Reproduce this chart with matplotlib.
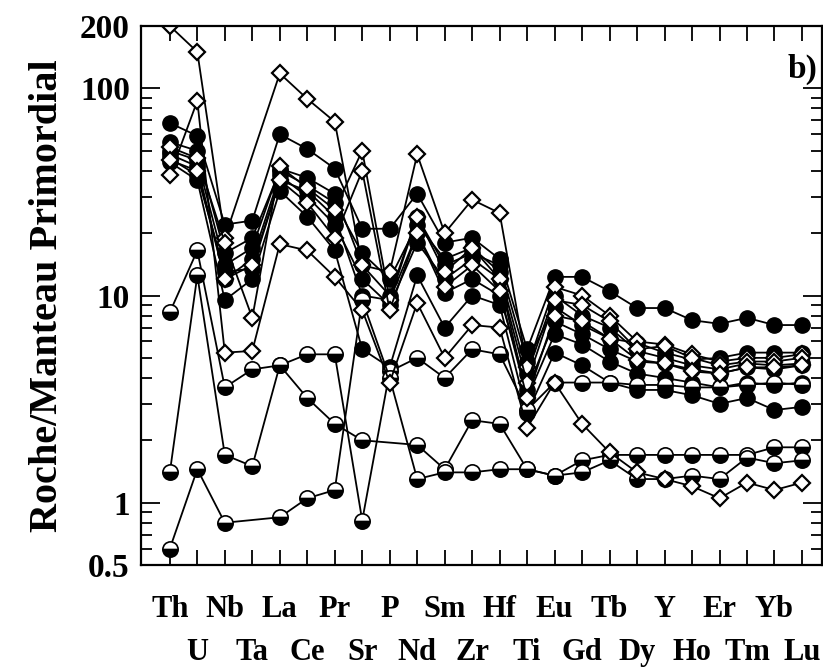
import numpy as np
import matplotlib.pyplot as plt
from matplotlib.ticker import LogLocator, NullFormatter, FixedLocator

plt.rcParams['font.family'] = ['Liberation Serif', 'DejaVu Serif']
plt.rcParams['font.weight'] = 'bold'

nan = np.nan
elements = ["Th", "U", "Nb", "Ta", "La", "Ce", "Pr", "Sr", "P", "Nd", "Sm", "Zr",
            "Hf", "Ti", "Eu", "Gd", "Tb", "Dy", "Y", "Ho", "Er", "Tm", "Yb", "Lu"]

# open diamonds
d1 = [200, 150, 19, nan, 118, 89, 69, 14, 13, 48, 20, 29, 25, 4.5, 11, 10, 8, 6, 5.8, 5.2, 4.8, 5.0, 5.0, 5.2]
d2 = [38, 87, 5.3, 5.4, 17.7, 16.5, 12.3, 8.5, 3.8, 9.2, 5.0, 7.2, 7.0, 2.3, 3.8, 2.4, 1.75, 1.4, 1.3, 1.2, 1.05, 1.25, 1.15, 1.25]
d3 = [52, 46, 18, 7.8, 42, 33, 26, 50, 9.5, 24, 13, 17, 12, 3.8, 9.5, 9, 7.5, 5.5, 5.7, 5.0, 4.6, 4.8, 4.8, 5.0]
d4 = [45, 40, 12, 14, 36, 28, 19, 40, 8.5, 20, 11, 14, 10.5, 3.2, 8, 7.5, 6.2, 4.9, 4.7, 4.3, 4.2, 4.5, 4.5, 4.6]

# filled circles
f1 = [68, 59, 22, 23, 60, 51, 41, 21, 21, 31, 18, 19, 15, 5.5, 12.3, 12.3, 10.5, 8.7, 8.7, 7.6, 7.3, 7.8, 7.2, 7.2]
f2 = [50, 45, 14, 17, 41, 37, 31, 14, 10, 24, 14, 16, 14, 4.8, 8.8, 7.2, 6.2, 5.9, 5.3, 4.9, 5.0, 5.3, 5.3, 5.3]
f3 = [46, 38, 13, 13.5, 36, 32, 24, 10, 9.5, 20, 10.3, 12, 10, 3.5, 7.5, 6.5, 5.5, 4.8, 4.7, 4.4, 4.2, 4.5, 4.4, 4.6]
f4 = [44, 36, 9.5, 12, 32, 24, 16.5, 5.5, 4.5, 12.5, 7, 10, 9, 2.7, 5.3, 4.6, 3.8, 3.5, 3.5, 3.3, 3.0, 3.2, 2.8, 2.9]
f5 = [48, 42, 12, 15, 38, 30, 22, 12, 9, 18, 12, 15, 12, 3.2, 6.5, 5.8, 4.8, 4.2, 4.0, 3.8, 3.6, 3.8, 3.7, 3.8]
f6 = [55, 50, 16, 19, 40, 34, 28, 16, 12, 22, 15, 17, 13, 4.2, 10, 8, 7, 5.4, 5.0, 4.6, 4.4, 4.7, 4.6, 4.7]

# half-filled circles
h1 = [8.3, 16.5, 3.6, 4.4, 4.6, 5.2, 5.2, 0.82, 4.3, 5.0, 4.0, 5.5, 5.2, 2.8, 3.8, 3.8, 3.8, 3.7, 3.7, 3.6, 3.6, 3.7, 3.8, 3.7]
h2 = [1.4, 12.5, 1.7, 1.5, 4.6, 3.2, 2.4, 2.0, nan, 1.9, 1.45, 2.5, 2.4, 1.45, 1.35, 1.6, 1.7, 1.7, 1.7, 1.7, 1.7, 1.7, 1.85, 1.85]
h3 = [0.6, 1.45, 0.8, nan, 0.85, 1.05, 1.15, 9.5, 4.0, 1.3, 1.4, 1.4, 1.45, 1.45, 1.35, 1.4, 1.6, 1.3, 1.3, 1.35, 1.3, 1.65, 1.55, 1.6]

filled = [f1, f2, f3, f4, f5, f6]
halves = [h1, h2, h3]
diamonds = [d1, d2, d3, d4]

fig = plt.figure(figsize=(8.23, 6.70), dpi=100)
ax = fig.add_axes([0.1713, 0.1567, 0.8275, 0.8045])

x = np.arange(len(elements))


def draw(vals, **kw):
    v = np.array(vals, dtype=float)
    m = ~np.isnan(v)
    ax.plot(x[m], v[m], color='black', lw=1.3, **kw)


for s in filled:
    draw(s, marker='o', ms=11, mfc='black', mec='black')
for s in halves:
    draw(s, marker='o', ms=11, fillstyle='bottom', mfc='black',
         markerfacecoloralt='white', mec='black', mew=1.2)
for s in diamonds:
    draw(s, marker='D', ms=8, mfc='white', mec='black', mew=1.6)

ax.set_yscale('log')
ax.set_ylim(0.5, 200)
ax.set_xlim(-1.05, 23.73)

ax.yaxis.set_major_locator(FixedLocator([0.5, 1, 10, 100, 200]))
ax.set_yticklabels(["0.5", "1", "10", "100", "200"], fontsize=24, fontweight='bold')
ax.yaxis.set_minor_locator(LogLocator(base=10, subs=np.arange(2, 10)))
ax.yaxis.set_minor_formatter(NullFormatter())
ax.tick_params(axis='y', which='major', direction='in', length=14, width=1.3,
               left=True, right=True, pad=8)
ax.tick_params(axis='y', which='minor', direction='in', length=8, width=1.3,
               left=True, right=True)

ax.set_xticks(x)
ax.set_xticklabels([])
ax.tick_params(axis='x', which='major', direction='in', length=11, width=1.3,
               top=True, bottom=True)

# element names in two staggered rows
for i, name in enumerate(elements):
    yy = -0.083 if i % 2 == 0 else -0.162
    ax.text(i, yy, name, transform=ax.get_xaxis_transform(), ha='center',
            va='center', fontsize=22, fontweight='bold')

for sp in ax.spines.values():
    sp.set_linewidth(1.6)

ax.set_ylabel("Roche/Manteau Primordial", fontsize=29, fontweight='bold', labelpad=10)
ax.text(0.993, 0.92, "b)", transform=ax.transAxes, ha='right', va='center',
        fontsize=24, fontweight='bold')

fig.savefig("out.png", dpi=100)
